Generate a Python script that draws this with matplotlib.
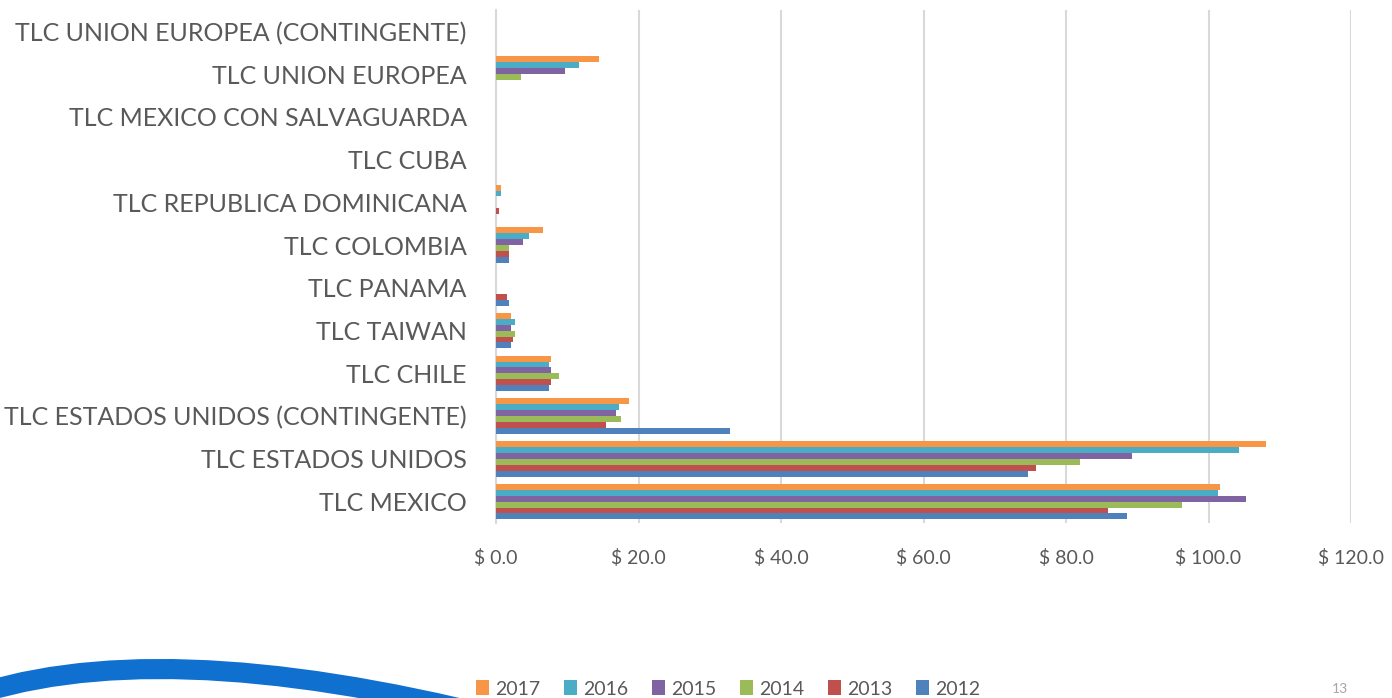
import matplotlib
matplotlib.use("Agg")
import matplotlib.pyplot as plt
import numpy as np
from matplotlib.path import Path
from matplotlib.patches import PathPatch

# Categories, top to bottom as shown
categories = [
    "TLC UNION EUROPEA (CONTINGENTE)",
    "TLC UNION EUROPEA",
    "TLC MEXICO CON SALVAGUARDA",
    "TLC CUBA",
    "TLC REPUBLICA DOMINICANA",
    "TLC COLOMBIA",
    "TLC PANAMA",
    "TLC TAIWAN",
    "TLC CHILE",
    "TLC ESTADOS UNIDOS (CONTINGENTE)",
    "TLC ESTADOS UNIDOS",
    "TLC MEXICO",
]

years = ["2017", "2016", "2015", "2014", "2013", "2012"]

v2017 = [0, 14.5, 0, 0, 0.7, 6.6, 0, 2.1, 7.7, 18.7, 108.1, 101.6]
v2016 = [0, 11.7, 0, 0, 0.7, 4.6, 0, 2.7, 7.5, 17.3, 104.3, 101.3]
v2015 = [0, 9.7, 0, 0, 0, 3.8, 0, 2.1, 7.7, 16.8, 89.2, 105.2]
v2014 = [0, 3.5, 0, 0, 0, 1.8, 0, 2.7, 8.9, 17.6, 81.9, 96.3]
v2013 = [0, 0, 0, 0, 0.4, 1.8, 1.5, 2.4, 7.7, 15.4, 75.8, 85.9]
v2012 = [0, 0, 0, 0, 0, 1.8, 1.8, 2.1, 7.5, 32.8, 74.7, 88.5]

xticks = [0, 20, 40, 60, 80, 100, 120]
xtick_labels = ["$ 0.0", "$ 20.0", "$ 40.0", "$ 60.0", "$ 80.0", "$ 100.0", "$ 120.0"]

colors = {
    "2017": "#F79646",
    "2016": "#4BACC6",
    "2015": "#8064A2",
    "2014": "#9BBB59",
    "2013": "#C0504D",
    "2012": "#4F81BD",
}
series = {"2017": v2017, "2016": v2016, "2015": v2015,
          "2014": v2014, "2013": v2013, "2012": v2012}

plt.rcParams["font.family"] = ["Lato", "DejaVu Sans"]
text_color = "#595959"

fig = plt.figure(figsize=(13.92, 6.98), dpi=100)
ax = fig.add_axes([496 / 1392, 1 - 523 / 698, (1351 - 496) / 1392, (523 - 10) / 698])

n = len(categories)
ypos = np.arange(n)[::-1]  # top category at highest y
bar_h = 0.138
order_bottom_up = ["2012", "2013", "2014", "2015", "2016", "2017"]
handles = {}
for i, yr in enumerate(order_bottom_up):
    offset = (i - 2.5) * bar_h
    h = ax.barh(ypos + offset, series[yr], height=bar_h, color=colors[yr],
                label=yr, zorder=3)
    handles[yr] = h

ax.set_ylim(-0.5, n - 0.5)
ax.set_xlim(0, 120)
ax.set_yticks(ypos)
ax.set_yticklabels(categories, fontsize=18, color=text_color)
ax.set_xticks(xticks)
ax.set_xticklabels(xtick_labels, fontsize=14, color=text_color)
ax.tick_params(axis="y", length=0, pad=21)
ax.tick_params(axis="x", length=0, pad=19)
ax.grid(axis="x", color="#D9D9D9", linewidth=1.5, zorder=0)
for s in ["top", "right", "bottom"]:
    ax.spines[s].set_visible(False)
ax.spines["left"].set_color("#D9D9D9")
ax.spines["left"].set_linewidth(1.5)

# decorative blue swoosh bottom-left (figure pixel coordinates)
W, H = 1392, 698
def fp(x, y):
    return (x / W, 1 - y / H)
verts = [fp(-40, 700), fp(150, 630), fp(500, 718)]
path = Path(verts, [Path.MOVETO, Path.CURVE3, Path.CURVE3])
fig.patches.append(PathPatch(path, transform=fig.transFigure, facecolor="none",
                             edgecolor="#0F70D0", linewidth=14.5, capstyle="butt"))

leg = fig.legend([handles[y] for y in years], years, loc="center",
                 bbox_to_anchor=(728 / W, 1 - 689 / H), ncol=6, frameon=False,
                 fontsize=14, handlelength=0.7, handleheight=0.8,
                 handletextpad=0.3, columnspacing=1.2)
for t in leg.get_texts():
    t.set_color(text_color)

fig.text(1332 / W, 1 - 695 / H, "13", fontsize=10, color="#A6A6A6",
         ha="left", va="bottom")

fig.savefig("out.png", dpi=100)
